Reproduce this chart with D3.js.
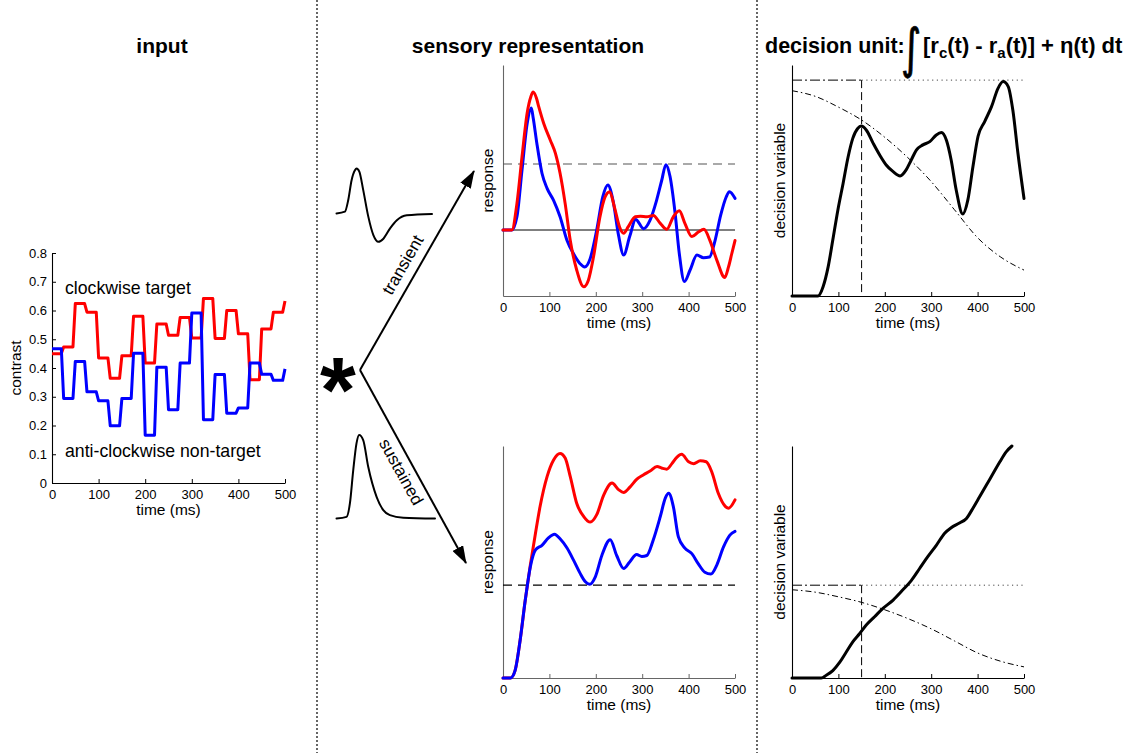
<!DOCTYPE html>
<html>
<head>
<meta charset="utf-8">
<script src="https://cdn.jsdelivr.net/npm/d3@7"></script>
<style>
  body { margin: 0; background: #fff; }
  svg { font-family: "Liberation Sans", Arial, Helvetica, sans-serif; }
</style>
</head>
<body>
<svg id="fig" width="1135" height="753"></svg>
<script>
// ---------- data ----------
const timeTicks = [0, 100, 200, 300, 400, 500];
const contrastTicks = [0, 0.1, 0.2, 0.3, 0.4, 0.5, 0.6, 0.7, 0.8];
const frameMs = 25;

// contrast of each 25 ms frame (last entry = value at 500 ms)
const clockwiseFrames = [0.45, 0.473, 0.624, 0.594, 0.435, 0.364, 0.443, 0.58, 0.417, 0.553,
  0.514, 0.576, 0.504, 0.642, 0.503, 0.60, 0.519, 0.359, 0.536, 0.594, 0.633];
const anticlockwiseFrames = [0.467, 0.294, 0.423, 0.317, 0.286, 0.199, 0.294, 0.451, 0.166, 0.403,
  0.255, 0.417, 0.591, 0.22, 0.377, 0.243, 0.261, 0.417, 0.378, 0.357, 0.397];

// temporal filters [time (% of kernel), normalised amplitude]
const transientKernel = [[0, 0], [8.8, 0.04], [12.3, 0.30], [15.8, 0.74], [19.3, 0.96], [21, 1.0],
  [23.9, 0.93], [28, 0.52], [33.3, -0.07], [38.6, -0.48], [43.9, -0.63], [49.1, -0.56],
  [56.1, -0.33], [63.2, -0.15], [73.7, -0.04], [100, -0.01]];
const sustainedKernel = [[0, 0], [10.2, 0.02], [13.6, 0.18], [17, 0.58], [20.3, 0.90], [23, 1.0],
  [27.1, 0.94], [32.2, 0.62], [40.7, 0.26], [47.5, 0.10], [54.2, 0.04], [67.8, 0.01], [100, 0]];

// sensory responses [time ms, response]
const redTransient = [[0, 0], [19, 0], [30, 0.40], [41, 1.11], [52, 1.77], [60, 2.02], [65, 2.09],
  [72, 2.0], [77, 1.87], [88, 1.61], [102, 1.36], [113, 1.16], [123, 0.86], [134, 0.40],
  [145, -0.16], [159, -0.61], [174, -0.86], [184, -0.76], [195, -0.41], [209, 0.20], [220, 0.50],
  [230, 0.58], [240, 0.35], [251, 0.05], [260, -0.05], [270, 0.05], [285, 0.20], [296, 0.21],
  [310, 0.20], [324, 0.22], [339, 0.10], [353, 0.01], [367, 0.20], [380, 0.29], [392, 0.10],
  [407, -0.10], [421, -0.03], [433, 0.01], [446, -0.16], [461, -0.46], [478, -0.72],
  [486, -0.56], [493, -0.36], [500, -0.16]];
const blueTransient = [[0, 0], [19, 0], [30, 0.20], [41, 0.91], [52, 1.61], [61, 1.85], [65, 1.7],
  [73, 1.31], [84, 0.86], [95, 0.63], [109, 0.45], [123, 0.20], [138, -0.16], [152, -0.36],
  [166, -0.51], [176, -0.56], [188, -0.43], [202, 0.0], [215, 0.50], [226, 0.68], [237, 0.45],
  [249, -0.08], [260, -0.38], [273, -0.10], [286, 0.16], [303, 0.02], [317, 0.15], [331, 0.45],
  [342, 0.75], [351, 0.99], [360, 0.81], [371, 0.25], [380, -0.36], [391, -0.78], [403, -0.61],
  [418, -0.38], [432, -0.42], [445, -0.41], [457, -0.16], [469, 0.22], [481, 0.50], [488, 0.58],
  [500, 0.48]];
const redSustained = [[0, 0], [16, 0], [26, 0.08], [37, 0.41], [48, 0.84], [59, 1.22], [70, 1.56],
  [80, 1.85], [95, 2.17], [109, 2.35], [123, 2.42], [134, 2.37], [145, 2.17], [159, 1.88],
  [174, 1.74], [188, 1.68], [202, 1.76], [217, 1.97], [235, 2.10], [249, 2.03], [260, 2.00],
  [274, 2.06], [288, 2.14], [303, 2.19], [317, 2.23], [332, 2.28], [343, 2.26], [353, 2.25],
  [364, 2.31], [375, 2.38], [385, 2.41], [400, 2.33], [411, 2.31], [425, 2.34], [438, 2.33],
  [450, 2.22], [464, 1.99], [479, 1.85], [486, 1.83], [500, 1.92]];
const blueSustained = [[0, 0], [16, 0], [26, 0.08], [37, 0.41], [48, 0.84], [59, 1.20], [70, 1.38],
  [84, 1.43], [98, 1.51], [111, 1.55], [123, 1.50], [138, 1.40], [152, 1.27], [166, 1.13],
  [177, 1.04], [187, 1.01], [199, 1.09], [213, 1.32], [231, 1.49], [245, 1.32], [260, 1.18],
  [273, 1.25], [288, 1.33], [299, 1.31], [310, 1.32], [324, 1.49], [339, 1.74], [350, 1.94],
  [357, 1.99], [367, 1.85], [378, 1.52], [392, 1.40], [407, 1.34], [421, 1.23], [435, 1.14],
  [448, 1.12], [461, 1.22], [475, 1.41], [489, 1.54], [500, 1.58]];
const sensoryThreshold = 1;

// decision variables [time ms, value]
const decisionTransient = [[0, 0], [56, 0], [67, 0.043], [78, 0.136], [88, 0.26], [99, 0.40],
  [110, 0.52], [121, 0.645], [131, 0.73], [142, 0.777], [149, 0.787], [160, 0.769], [175, 0.707],
  [189, 0.653], [203, 0.607], [218, 0.576], [233, 0.556], [246, 0.584], [257, 0.63], [268, 0.676],
  [282, 0.70], [297, 0.715], [311, 0.746], [322, 0.757], [333, 0.72], [343, 0.63], [354, 0.49],
  [368, 0.38], [379, 0.445], [390, 0.60], [401, 0.74], [415, 0.807], [430, 0.877], [444, 0.962],
  [455, 0.993], [466, 0.97], [476, 0.86], [487, 0.66], [500, 0.452]];
const decisionSustained = [[0, 0], [63, 0], [74, 0.03], [88, 0.08], [103, 0.17], [117, 0.28],
  [131, 0.39], [146, 0.48], [160, 0.57], [178, 0.66], [196, 0.75], [218, 0.84], [239, 0.95],
  [257, 1.05], [275, 1.18], [293, 1.31], [311, 1.43], [329, 1.56], [343, 1.62], [361, 1.67],
  [376, 1.72], [390, 1.83], [404, 1.95], [419, 2.08], [433, 2.20], [448, 2.33], [462, 2.44],
  [474, 2.5]];
const collapsingBound = [[0, 0.951], [50, 0.925], [100, 0.875], [150, 0.815], [200, 0.735],
  [250, 0.64], [300, 0.53], [350, 0.40], [400, 0.27], [450, 0.18], [500, 0.12]];
const decisionThreshold = 1;
const decisionTime = 150;

// ---------- drawing ----------
const svg = d3.select("#fig");
const FONT = '"Liberation Sans", Arial, Helvetica, sans-serif';
const RED = "#ff0000", BLUE = "#0000ff";

// scales
const tIn = d3.scaleLinear().domain([0, 500]).range([52, 285]);
const cIn = d3.scaleLinear().domain([0, 0.8]).range([483, 253]);
const tSens = d3.scaleLinear().domain([0, 500]).range([503, 735]);
const rTrans = d3.scaleLinear().domain([-1, 2.5]).range([296, 65]);
const rSust = d3.scaleLinear().domain([0, 2.5]).range([678, 446]);
const tDec = d3.scaleLinear().domain([0, 500]).range([792, 1024]);
const dTrans = d3.scaleLinear().domain([0, 1.07]).range([296, 65]);
const dSust = d3.scaleLinear().domain([0, 2.5]).range([678, 446]);

function drawAxes(x, y, color, yTicks) {
  const gx = svg.append("g")
    .attr("transform", `translate(0,${y.range()[0]})`)
    .call(d3.axisBottom(x).tickValues(timeTicks).tickSizeInner(-4).tickSizeOuter(0).tickPadding(7));
  let yAxis;
  if (yTicks) {
    yAxis = d3.axisLeft(y).tickValues(yTicks).tickSizeInner(-4).tickSizeOuter(0).tickPadding(5)
      .tickFormat(d => d === 0 ? "0" : d3.format(".1f")(d));
  } else {
    yAxis = d3.axisLeft(y).tickValues([]).tickSizeOuter(0);
  }
  const gy = svg.append("g").attr("transform", `translate(${x.range()[0]},0)`).call(yAxis);
  [gx, gy].forEach(g => {
    g.attr("font-family", FONT).attr("font-size", 13);
    g.select(".domain").attr("stroke", color).attr("stroke-width", 1.1);
    g.selectAll(".tick line").attr("stroke", color);
    g.selectAll(".tick text").attr("fill", "#000");
  });
}

function xLabel(x, y, text) {
  svg.append("text").attr("x", (x.range()[0] + x.range()[1]) / 2).attr("y", y.range()[0] + 32)
    .attr("text-anchor", "middle").attr("font-size", 15.5).text(text);
}
function yLabel(px, y, text) {
  const cy = (y.range()[0] + y.range()[1]) / 2;
  svg.append("text").attr("transform", `translate(${px},${cy}) rotate(-90)`)
    .attr("text-anchor", "middle").attr("font-size", 15.5).text(text);
}
function curve(data, x, y, color, width) {
  svg.append("path").datum(data)
    .attr("d", d3.line().x(d => x(d[0])).y(d => y(d[1])).curve(d3.curveMonotoneX))
    .attr("fill", "none").attr("stroke", color).attr("stroke-width", width)
    .attr("stroke-linejoin", "round").attr("stroke-linecap", "round");
}
function hLine(x, y, t0, t1, v, color, dash, width) {
  svg.append("line").attr("x1", x(t0)).attr("x2", x(t1)).attr("y1", y(v)).attr("y2", y(v))
    .attr("stroke", color).attr("stroke-dasharray", dash).attr("stroke-width", width);
}

// panel separators
[317, 757].forEach(px => {
  svg.append("line").attr("x1", px).attr("x2", px).attr("y1", 0).attr("y2", 753)
    .attr("stroke", "#000").attr("stroke-width", 1.2).attr("stroke-dasharray", "2,2");
});

// titles
svg.append("text").attr("x", 162).attr("y", 53).attr("text-anchor", "middle")
  .attr("font-size", 21).attr("font-weight", "bold").text("input");
svg.append("text").attr("x", 528).attr("y", 53).attr("text-anchor", "middle")
  .attr("font-size", 21).attr("font-weight", "bold").text("sensory representation");
svg.append("text").attr("x", 765).attr("y", 53)
  .attr("font-size", 21.5).attr("font-weight", "bold").text("decision unit:");
svg.append("text").attr("transform", "translate(911,67) scale(0.72,1)").attr("text-anchor", "middle")
  .attr("font-size", 54).attr("font-family", '"DejaVu Sans", sans-serif')
  .attr("stroke", "#000").attr("stroke-width", 0.8)
  .text("\u222B");
const eq = svg.append("text").attr("x", 923).attr("y", 53)
  .attr("font-size", 22).attr("font-weight", "bold");
eq.append("tspan").text("[r");
eq.append("tspan").attr("font-size", 15).attr("dy", 5).text("c");
eq.append("tspan").attr("dy", -5).text("(t) - r");
eq.append("tspan").attr("font-size", 15).attr("dy", 5).text("a");
eq.append("tspan").attr("dy", -5).text("(t)] + \u03B7(t) dt");

// ---- input panel ----
function stepPoints(frames) {
  const pts = [];
  for (let t = 0; t <= 500; t += 5) pts.push([t, frames[Math.min(Math.floor(t / frameMs), frames.length - 1)]]);
  return pts;
}
drawAxes(tIn, cIn, "#000", contrastTicks);
xLabel(tIn, cIn, "time (ms)");
yLabel(21, cIn, "contrast");
const stepLine = d3.line().x(d => tIn(d[0])).y(d => cIn(d[1]));
svg.append("path").datum(stepPoints(clockwiseFrames)).attr("d", stepLine)
  .attr("fill", "none").attr("stroke", RED).attr("stroke-width", 3).attr("stroke-linejoin", "round");
svg.append("path").datum(stepPoints(anticlockwiseFrames)).attr("d", stepLine)
  .attr("fill", "none").attr("stroke", BLUE).attr("stroke-width", 3).attr("stroke-linejoin", "round");
svg.append("text").attr("x", 65).attr("y", 294).attr("font-size", 17.7).text("clockwise target");
svg.append("text").attr("x", 65).attr("y", 457).attr("font-size", 17.7).text("anti-clockwise non-target");

// ---- filters, convolution and arrows ----
const k1x = d3.scaleLinear().domain([0, 100]).range([336.5, 432]);
const k1y = d3.scaleLinear().domain([0, 1]).range([213.5, 168.5]);
const k2x = d3.scaleLinear().domain([0, 100]).range([336.5, 435]);
const k2y = d3.scaleLinear().domain([0, 1]).range([518.5, 435]);
curve(transientKernel, k1x, k1y, "#000", 2);
curve(sustainedKernel, k2x, k2y, "#000", 2);

const defs = svg.append("defs");
defs.append("marker").attr("id", "arrowhead").attr("markerUnits", "userSpaceOnUse")
  .attr("markerWidth", 18).attr("markerHeight", 12).attr("refX", 17).attr("refY", 6)
  .attr("orient", "auto")
  .append("path").attr("d", "M0,0 L18,6 L0,12 Z").attr("fill", "#000");
const origin = [360, 370];
const tips = [[474, 171], [466, 563]];
tips.forEach(tp => {
  svg.append("line").attr("x1", origin[0]).attr("y1", origin[1]).attr("x2", tp[0]).attr("y2", tp[1])
    .attr("stroke", "#000").attr("stroke-width", 2).attr("marker-end", "url(#arrowhead)");
});
svg.append("text").attr("transform", "translate(403,265) rotate(-60)")
  .attr("text-anchor", "middle").attr("dominant-baseline", "central").attr("font-size", 17).text("transient");
svg.append("text").attr("transform", "translate(401,472) rotate(61)")
  .attr("text-anchor", "middle").attr("dominant-baseline", "central").attr("font-size", 17).text("sustained");
svg.append("text").attr("x", 338).attr("y", 422).attr("text-anchor", "middle")
  .attr("font-size", 92).attr("font-weight", "bold").text("*");

// ---- sensory representation ----
drawAxes(tSens, rTrans, "#666", null);
xLabel(tSens, rTrans, "time (ms)");
yLabel(493, rTrans, "response");
hLine(tSens, rTrans, 0, 500, sensoryThreshold, "#555", "9,6", 1.2);
hLine(tSens, rTrans, 0, 500, 0, "#000", null, 1);
curve(blueTransient, tSens, rTrans, BLUE, 3);
curve(redTransient, tSens, rTrans, RED, 3);

drawAxes(tSens, rSust, "#666", null);
xLabel(tSens, rSust, "time (ms)");
yLabel(493, rSust, "response");
hLine(tSens, rSust, 0, 500, sensoryThreshold, "#000", "9,6", 1.2);
curve(redSustained, tSens, rSust, RED, 3);
curve(blueSustained, tSens, rSust, BLUE, 3);

// ---- decision unit ----
function decisionPanel(y, data) {
  drawAxes(tDec, y, "#000", null);
  xLabel(tDec, y, "time (ms)");
  yLabel(785, y, "decision variable");
  hLine(tDec, y, 0, decisionTime, decisionThreshold, "#000", "10,3,2,3", 1);
  hLine(tDec, y, decisionTime, 500, decisionThreshold, "#444", "1.2,3.5", 1);
  svg.append("line").attr("x1", tDec(decisionTime)).attr("x2", tDec(decisionTime))
    .attr("y1", y(decisionThreshold)).attr("y2", y(0))
    .attr("stroke", "#000").attr("stroke-width", 1).attr("stroke-dasharray", "8,4");
  svg.append("path").datum(collapsingBound)
    .attr("d", d3.line().x(d => tDec(d[0])).y(d => y(d[1])).curve(d3.curveMonotoneX))
    .attr("fill", "none").attr("stroke", "#000").attr("stroke-width", 1)
    .attr("stroke-dasharray", "6,3,1.5,3");
  curve(data, tDec, y, "#000", 3);
}
decisionPanel(dTrans, decisionTransient);
decisionPanel(dSust, decisionSustained);
</script>
</body>
</html>
